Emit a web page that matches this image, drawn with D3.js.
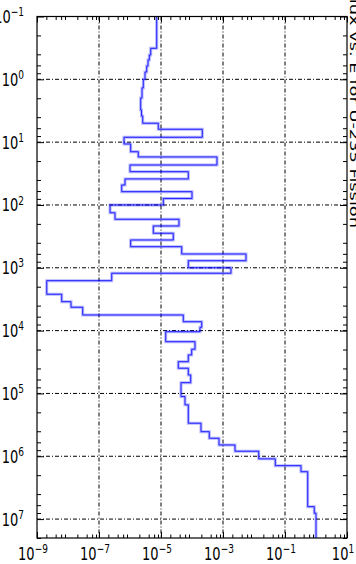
<!DOCTYPE html>
<html>
<head>
<meta charset="utf-8">
<script src="https://cdn.jsdelivr.net/npm/d3@7"></script>
<style>
  html, body { margin: 0; padding: 0; background: #fff; overflow: hidden; }
  svg { display: block; }
</style>
</head>
<body>
<svg id="chart" width="356" height="564"></svg>
<script>
// Group boundaries in energy (eV), from the lowest energy to the highest
const energyBounds = [
  0.1, 0.321, 0.41, 0.492, 0.614, 0.764, 1.0, 1.37, 1.98, 3.08,
  3.83, 5.0, 6.24, 8.37, 10.7, 14.2, 17.2, 23.1, 29.5, 38.5,
  48.1, 61.4, 78.8, 100, 133, 169, 216, 282, 361, 461,
  603, 771, 1000, 1222, 1603, 2637, 3459, 4247, 5636, 7211,
  8851, 10400, 15000, 19800, 24400, 31200, 39700, 50800, 67300, 112000,
  152000, 298000, 406000, 517000, 661000, 832000, 1.10e6, 1.41e6, 1.76e6, 6.34e6,
  8.07e6, 2e7
];

// One value per energy group
const groupValues = [
  7.26e-6, 4.66e-6, 4.20e-6, 3.81e-6, 3.46e-6, 3.05e-6, 2.69e-6, 2.44e-6, 2.21e-6, 2.35e-6,
  2.57e-6, 8.18e-6, 2.15e-4, 6.39e-7, 1.05e-6, 1.85e-6, 6.40e-4, 1.0e-6, 7.60e-5, 6.90e-7,
  5.40e-7, 1.0e-4, 1.19e-5, 2.27e-7, 3.28e-7, 3.81e-5, 5.65e-6, 2.49e-5, 1.05e-6, 4.66e-5,
  5.52e-3, 7.60e-5, 1.81e-3, 2.57e-7, 2.06e-9, 6.27e-9, 1.25e-8, 2.98e-8, 5.24e-5, 2.06e-4,
  1.81e-4, 1.42e-5, 1.25e-4, 9.77e-5, 7.60e-5, 3.61e-5, 7.60e-5, 9.08e-5, 4.42e-5, 5.94e-5,
  7.60e-5, 1.95e-4, 3.61e-4, 7.43e-4, 2.44e-3, 1.42e-2, 4.86e-2, 0.328, 0.54, 0.88,
  1.0
];

// Tick exponents
const xMajorExps = [-9, -7, -5, -3, -1, 1];
const yMajorExps = [-1, 0, 1, 2, 3, 4, 5, 6, 7];
const minorSubs = [2, 4, 6, 8];
const sideTitle = "Flux vs. E for U-235 Fission";

const plot = { left: 37, right: 347, top: 16.5, bottom: 538 };
const textStretch = 1.37;
const FONT = "'DejaVu Sans', sans-serif";

const svg = d3.select("#chart");

const x = d3.scaleLog().domain([1e-9, 1e1]).range([plot.left, plot.right]);
const y = d3.scaleLog().domain([0.1, 2e7]).range([plot.top, plot.bottom]);

// Minor tick positions
const xMinor = [];
for (let e = -9; e < 1; e++) minorSubs.forEach(s => xMinor.push(s * Math.pow(10, e)));
const yMinor = [];
for (let e = -1; e < 8; e++) minorSubs.forEach(s => {
  const v = s * Math.pow(10, e);
  if (v <= 2e7) yMinor.push(v);
});
const xMajor = xMajorExps.map(e => Math.pow(10, e));
const yMajor = yMajorExps.map(e => Math.pow(10, e));

// Grid (dash-dot)
const grid = svg.append("g").attr("stroke", "#000").attr("stroke-width", 1)
  .attr("stroke-dasharray", "4,2,1,2").attr("fill", "none");
yMajor.filter(v => v > 0.1).forEach(v => {
  grid.append("line").attr("x1", plot.left).attr("x2", plot.right)
    .attr("y1", y(v)).attr("y2", y(v));
});
xMajor.filter(v => v > 1e-9 && v < 1e1).forEach(v => {
  grid.append("line").attr("y1", plot.top).attr("y2", plot.bottom)
    .attr("x1", x(v)).attr("x2", x(v));
});

// Step line through the groups
const pts = [];
groupValues.forEach((v, i) => {
  pts.push([v, energyBounds[i]]);
  pts.push([v, energyBounds[i + 1]]);
});
const line = d3.line().x(d => x(d[0])).y(d => y(d[1]));
svg.append("path").datum(pts).attr("d", line)
  .attr("fill", "none").attr("stroke", "#0000ff").attr("stroke-opacity", 0.3)
  .attr("stroke-width", 3).attr("stroke-linejoin", "miter");
svg.append("path").datum(pts).attr("d", line)
  .attr("fill", "none").attr("stroke", "#0000ff").attr("stroke-opacity", 0.8)
  .attr("stroke-width", 1).attr("stroke-linejoin", "miter");

// Inward ticks on all four sides
function ticks(axisFn, scale, values, size, transform) {
  const g = svg.append("g").attr("transform", transform)
    .call(axisFn(scale).tickValues(values).tickSize(-size).tickFormat(""));
  g.select(".domain").remove();
  g.selectAll(".tick line").attr("stroke", "#000").attr("stroke-width", 1);
}
ticks(d3.axisBottom, x, xMajor, 6, `translate(0,${plot.bottom})`);
ticks(d3.axisBottom, x, xMinor, 3.5, `translate(0,${plot.bottom})`);
ticks(d3.axisTop, x, xMajor, 6, `translate(0,${plot.top})`);
ticks(d3.axisTop, x, xMinor, 3.5, `translate(0,${plot.top})`);
ticks(d3.axisLeft, y, yMajor, 7, `translate(${plot.left},0)`);
ticks(d3.axisLeft, y, yMinor, 4, `translate(${plot.left},0)`);
ticks(d3.axisRight, y, yMajor, 7, `translate(${plot.right},0)`);
ticks(d3.axisRight, y, yMinor, 4, `translate(${plot.right},0)`);

// Frame
svg.append("rect").attr("x", plot.left).attr("y", plot.top)
  .attr("width", plot.right - plot.left).attr("height", plot.bottom - plot.top)
  .attr("fill", "none").attr("stroke", "#000").attr("stroke-width", 1.2);

// Power-of-ten labels
function powLabel(px, py, exp, anchor) {
  const t = svg.append("text")
    .attr("transform", `translate(${px},${py}) scale(1,${textStretch})`)
    .attr("text-anchor", anchor)
    .attr("font-family", FONT).attr("font-size", 13).attr("fill", "#000");
  t.append("tspan").text("10");
  t.append("tspan").attr("font-size", 9).attr("dy", -5)
    .text(exp < 0 ? "\u2212" + Math.abs(exp) : String(exp));
}
xMajorExps.forEach(e => powLabel(x(Math.pow(10, e)) - 4, 560, e, "middle"));
yMajorExps.forEach(e => powLabel(24, y(Math.pow(10, e)) + 6.5, e, "end"));

// Side title, reading downward along the right edge
svg.append("text")
  .attr("transform", `translate(350,228) scale(1,${textStretch}) rotate(90)`)
  .attr("text-anchor", "end")
  .attr("font-family", FONT).attr("font-size", 13).attr("fill", "#000")
  .text(sideTitle);
</script>
</body>
</html>
